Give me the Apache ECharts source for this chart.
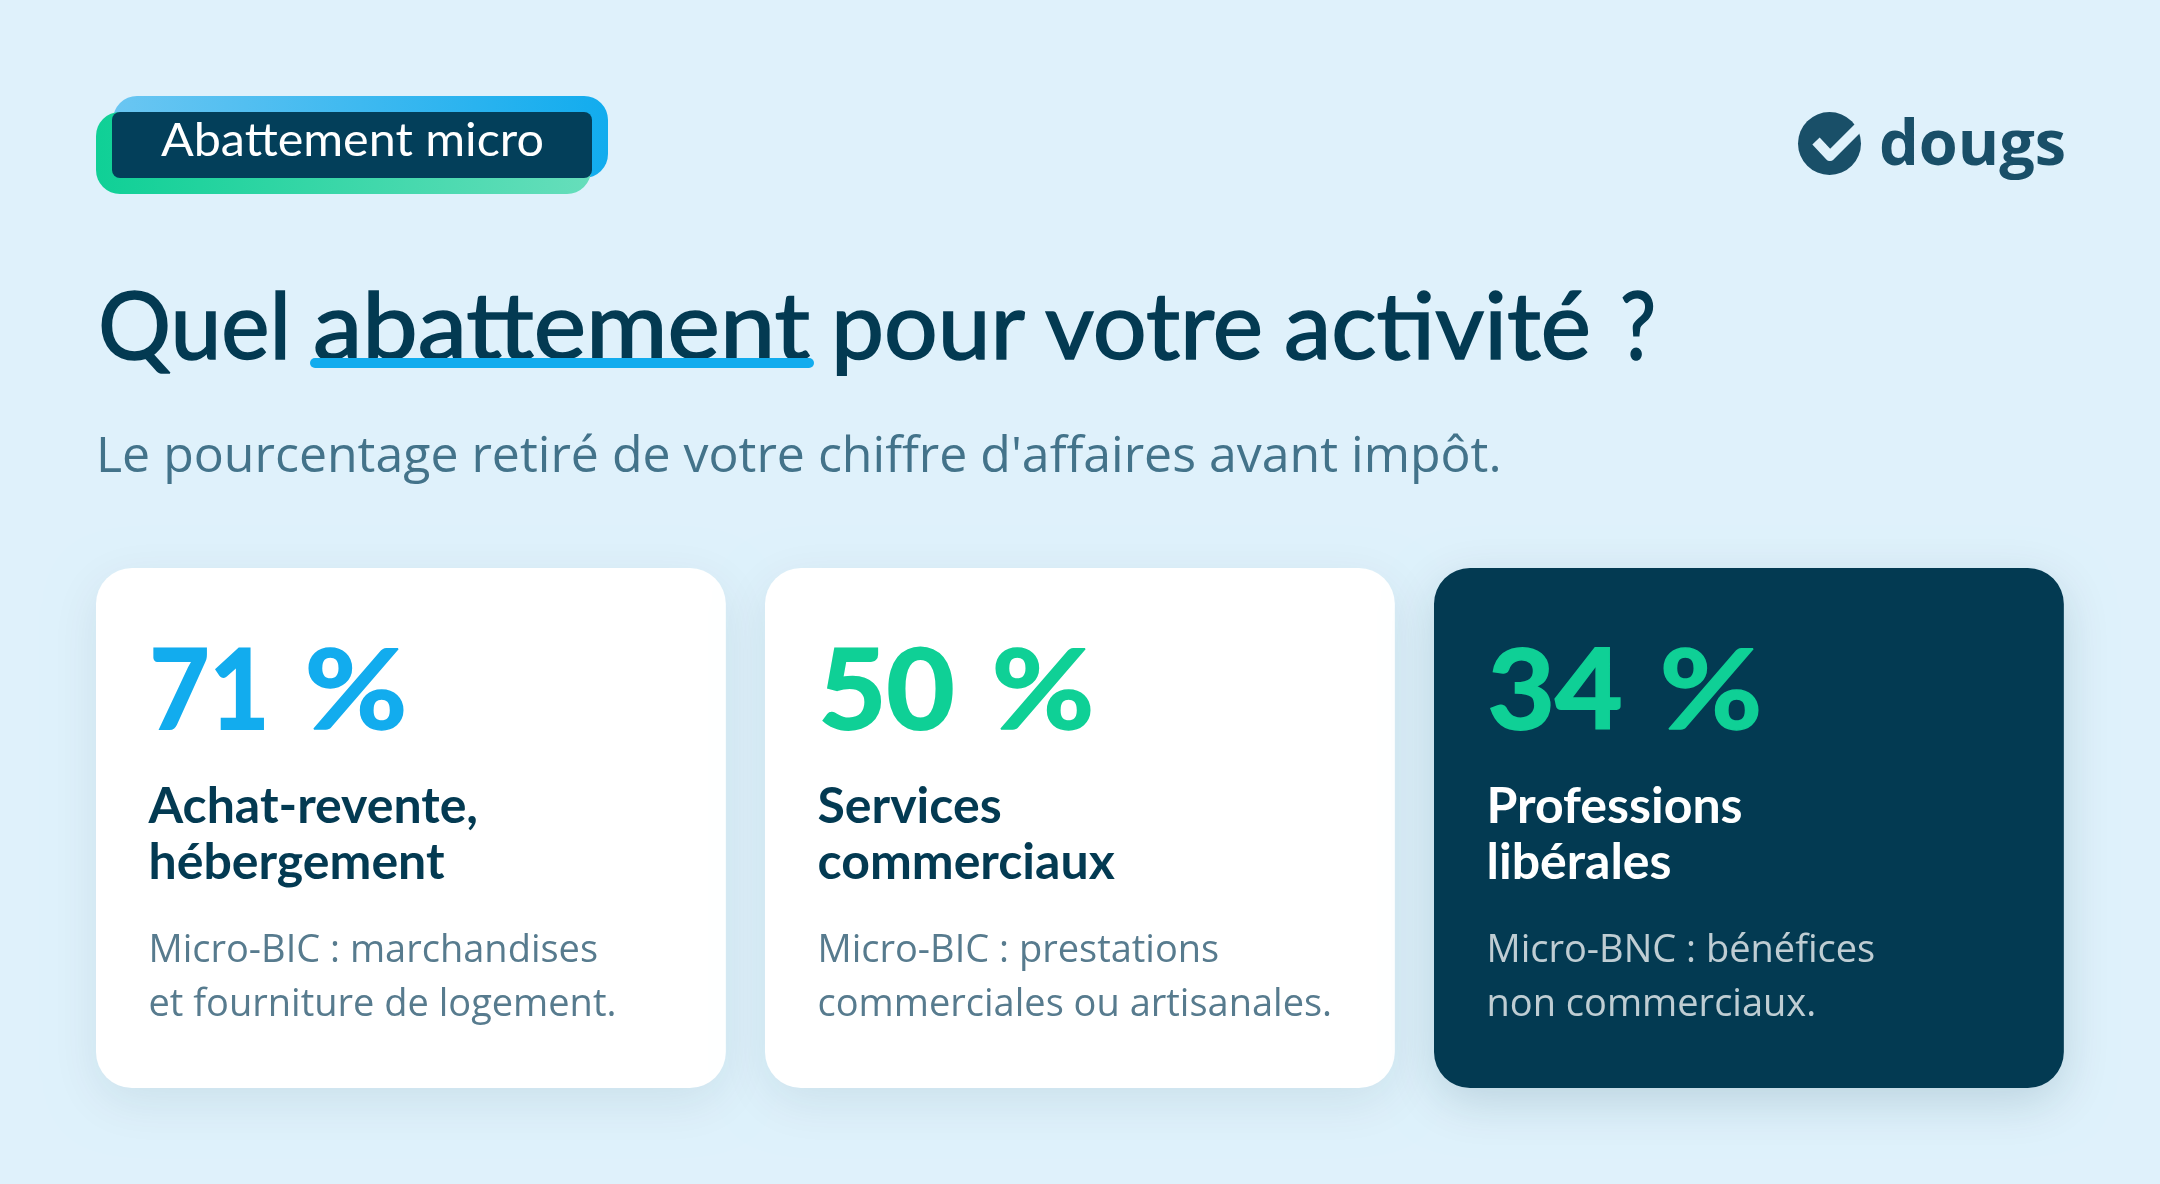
<!DOCTYPE html>
<html><head><meta charset="utf-8">
<style>html,body{margin:0;padding:0;background:#DFF1FB}#c{width:2160px;height:1184px}</style>
<script src="https://cdn.jsdelivr.net/npm/echarts@6/dist/echarts.min.js"></script>
</head><body><div id="c"></div>
<script>
const badgeLabel = 'Abattement micro';
const logoLabel = 'dougs';
const titleWords = ['Quel', 'abattement', 'pour', 'votre', 'activité', '?'];
const subtitleText = "Le pourcentage retiré de votre chiffre d'affaires avant impôt.";
const categories = ['Achat-revente, hébergement', 'Services commerciaux', 'Professions libérales'];
const abattements = [71, 50, 34];
const headingLines = [['Achat-revente,', 'hébergement'], ['Services', 'commerciaux'], ['Professions', 'libérales']];
const detailLines = [
  ['Micro-BIC : marchandises', 'et fourniture de logement.'],
  ['Micro-BIC : prestations', 'commerciales ou artisanales.'],
  ['Micro-BNC : bénéfices', 'non commerciaux.']
];

const NAVY = '#033A52', BLUE = '#12ACEE', GREEN = '#0FD096', LOGO = '#194F68', BG = '#DFF1FB';
const HEAD = 'Lato', BODY = '"Open Sans"';
const titleSpans = [[98, 291], [313, 810], [831, 1025], [1045, 1263], [1284, 1591], [1620, 1656]];
const numberWidths = [120, 136, 135];
const percentOffsets = [155, 173, 172];
const chart = echarts.init(document.getElementById('c'), null, {width: 2160, height: 1184});
const mctx = document.createElement('canvas').getContext('2d');
const K = 0.79;

// text placed by its baseline; optional target width stretches it horizontally
function label(text, x, baseline, weight, size, family, fill, targetW, thicken) {
  const font = weight + ' ' + size + 'px ' + family;
  let sx = 1;
  if (targetW) { mctx.font = font; sx = targetW / mctx.measureText(text).width; }
  const style = {text, x: 0, y: 0, font, fill, align: 'left', verticalAlign: 'top'};
  if (thicken) { style.stroke = fill; style.lineWidth = thicken; }
  return {type: 'text', x, y: baseline - K * size, scaleX: sx, style};
}

function renderCard(params, api) {
  const i = api.value(0);
  const band = api.size([1, 0])[0];
  const w = band - 40;
  const c = api.coord([i, 1]);
  const b = api.coord([i, 0]);
  const x = Math.round(c[0] - w / 2), y = c[1], h = b[1] - c[1];
  const dark = i === 2;
  const tx = Math.floor(c[0] - w / 2) + 52.5;
  const accent = i === 0 ? BLUE : GREEN;
  const headFill = dark ? '#FFFFFF' : NAVY;
  const bodyFill = dark ? 'rgba(255,255,255,0.75)' : '#577B8E';
  const kids = [{
    type: 'rect', shape: {x: Math.floor(c[0] - w / 2), y, width: w + 0.5, height: h, r: 36},
    style: {fill: dark ? NAVY : '#FFFFFF', shadowBlur: 48, shadowOffsetY: 14, shadowColor: dark ? 'rgba(3,58,82,0.16)' : 'rgba(3,58,82,0.09)'}
  },
    label(String(api.value(1)), tx + 1, 725.5, 700, 112, HEAD, accent, numberWidths[i], 2),
    label('%', tx + 1 + percentOffsets[i], 725.5, 700, 112, HEAD, accent, 103, 1.5),
    label(headingLines[i][0], tx, 821.5, 700, 50, HEAD, headFill),
    label(headingLines[i][1], tx, 877.5, 700, 50, HEAD, headFill),
    label(detailLines[i][0], tx, 962.5, 400, 38, BODY, bodyFill),
    label(detailLines[i][1], tx, 1016.5, 400, 38, BODY, bodyFill)
  ];
  return {type: 'group', children: kids};
}

const titleEls = titleWords.map((w, i) => label(w, titleSpans[i][0], 355.5, 400, 93, HEAD, NAVY, titleSpans[i][1] - titleSpans[i][0], 1.6));

chart.setOption({
  backgroundColor: BG,
  animation: false,
  grid: {left: 76.33, width: 2008, top: 568, height: 520},
  xAxis: {type: 'category', data: categories, show: false},
  yAxis: {type: 'value', min: 0, max: 1, show: false},
  series: [{
    type: 'custom', coordinateSystem: 'cartesian2d', clip: false,
    encode: {x: 0, y: 2},
    data: abattements.map((v, i) => [i, v, 1]),
    renderItem: renderCard
  }],
  graphic: [
    {type: 'rect', shape: {x: 113, y: 96, width: 495, height: 82, r: 24}, style: {fill: new echarts.graphic.LinearGradient(0, 0, 1, 0.2, [{offset: 0, color: '#6AC6F2'}, {offset: 1, color: BLUE}])}},
    {type: 'rect', shape: {x: 96, y: 112, width: 495, height: 82, r: 24}, style: {fill: new echarts.graphic.LinearGradient(0, 0, 1, 0.2, [{offset: 0, color: GREEN}, {offset: 1, color: '#66DEBB'}])}},
    {type: 'rect', shape: {x: 112, y: 112, width: 480, height: 66, r: 8}, style: {fill: '#033F5A'}},
    label(badgeLabel, 161, 155, 400, 46, HEAD, '#FFFFFF', 383),
    {type: 'circle', shape: {cx: 1829.5, cy: 143.5, r: 31.5}, style: {fill: LOGO}},
    {type: 'polyline', shape: {points: [[1816, 141], [1830, 156], [1862, 124]]}, style: {stroke: BG, lineWidth: 10, fill: 'none', lineCap: 'butt', lineJoin: 'round'}},
    label(logoLabel, 1879, 165.5, 700, 63, BODY, LOGO),
    ...titleEls,
    {type: 'rect', shape: {x: 310, y: 358, width: 504, height: 10, r: 5}, style: {fill: BLUE}},
    label(subtitleText, 96, 472.5, 400, 50, BODY, '#43738A')
  ]
});
</script></body></html>
